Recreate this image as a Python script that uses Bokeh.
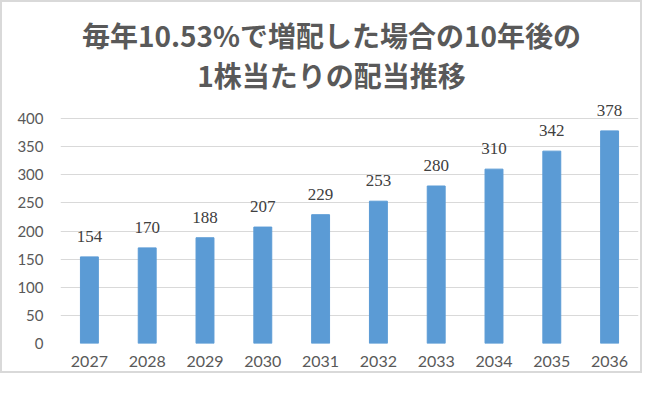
from bokeh.plotting import figure
from bokeh.models import ColumnDataSource, LabelSet, Label, FixedTicker, Range1d
from bokeh.embed import file_html
from bokeh.resources import INLINE

years = ["2027", "2028", "2029", "2030", "2031", "2032", "2033", "2034", "2035", "2036"]
dividends = [154, 170, 188, 207, 229, 253, 280, 310, 342, 378]
y_ticks = [0, 50, 100, 150, 200, 250, 300, 350, 400]
title_lines = ["毎年10.53%で増配した場合の10年後の", "1株当たりの配当推移"]

src = ColumnDataSource(dict(x=years, y=dividends, t=[str(v) for v in dividends]))

W, H = 642, 373
BOTTOM = 32
PX_PER_UNIT = 0.5625
p = figure(width=W, height=H, x_range=years,
           y_range=Range1d(0, (H - BOTTOM) / PX_PER_UNIT),
           output_backend="svg", toolbar_location=None,
           min_border_left=58, min_border_right=6, min_border_top=0,
           min_border_bottom=BOTTOM)
p.styles = {"border": "2px solid #d9d9d9"}
p.outline_line_color = None
p.background_fill_color = "white"
p.border_fill_color = "white"

p.vbar(x="x", top="y", width=0.31, source=src, color="#5B9BD5")

labels = LabelSet(x="x", y="y", text="t", source=src, text_align="center",
                  text_baseline="bottom", y_offset=15, text_font_size="17px",
                  text_color="#404040", text_font="Lato")
p.add_layout(labels)

p.yaxis.ticker = FixedTicker(ticks=y_ticks)
for ax in (p.xaxis[0], p.yaxis[0]):
    ax.axis_line_color = None
    ax.major_tick_line_color = None
    ax.minor_tick_line_color = None
    ax.major_tick_out = 0
    ax.major_tick_in = 0
    ax.major_label_text_color = "#595959"
    ax.major_label_text_font = "Lato"
p.yaxis.major_label_text_font_size = "15px"
p.yaxis.major_label_standoff = 17
p.xaxis.major_label_text_font_size = "16px"
p.xaxis.major_label_standoff = 12
p.xgrid.grid_line_color = None
p.ygrid.grid_line_color = "#d9d9d9"
p.ygrid.grid_line_width = 1
p.x_range.range_padding = 0

for i, txt in enumerate(title_lines):
    p.add_layout(Label(x=271, y=309 - i * 40, x_units="screen", y_units="screen",
                       text=txt, text_align="center", text_baseline="middle",
                       text_font="Noto Sans CJK JP", text_font_style="bold",
                       text_font_size="28px", text_color="#595959"))

open("out.html", "w").write(file_html(p, INLINE))
